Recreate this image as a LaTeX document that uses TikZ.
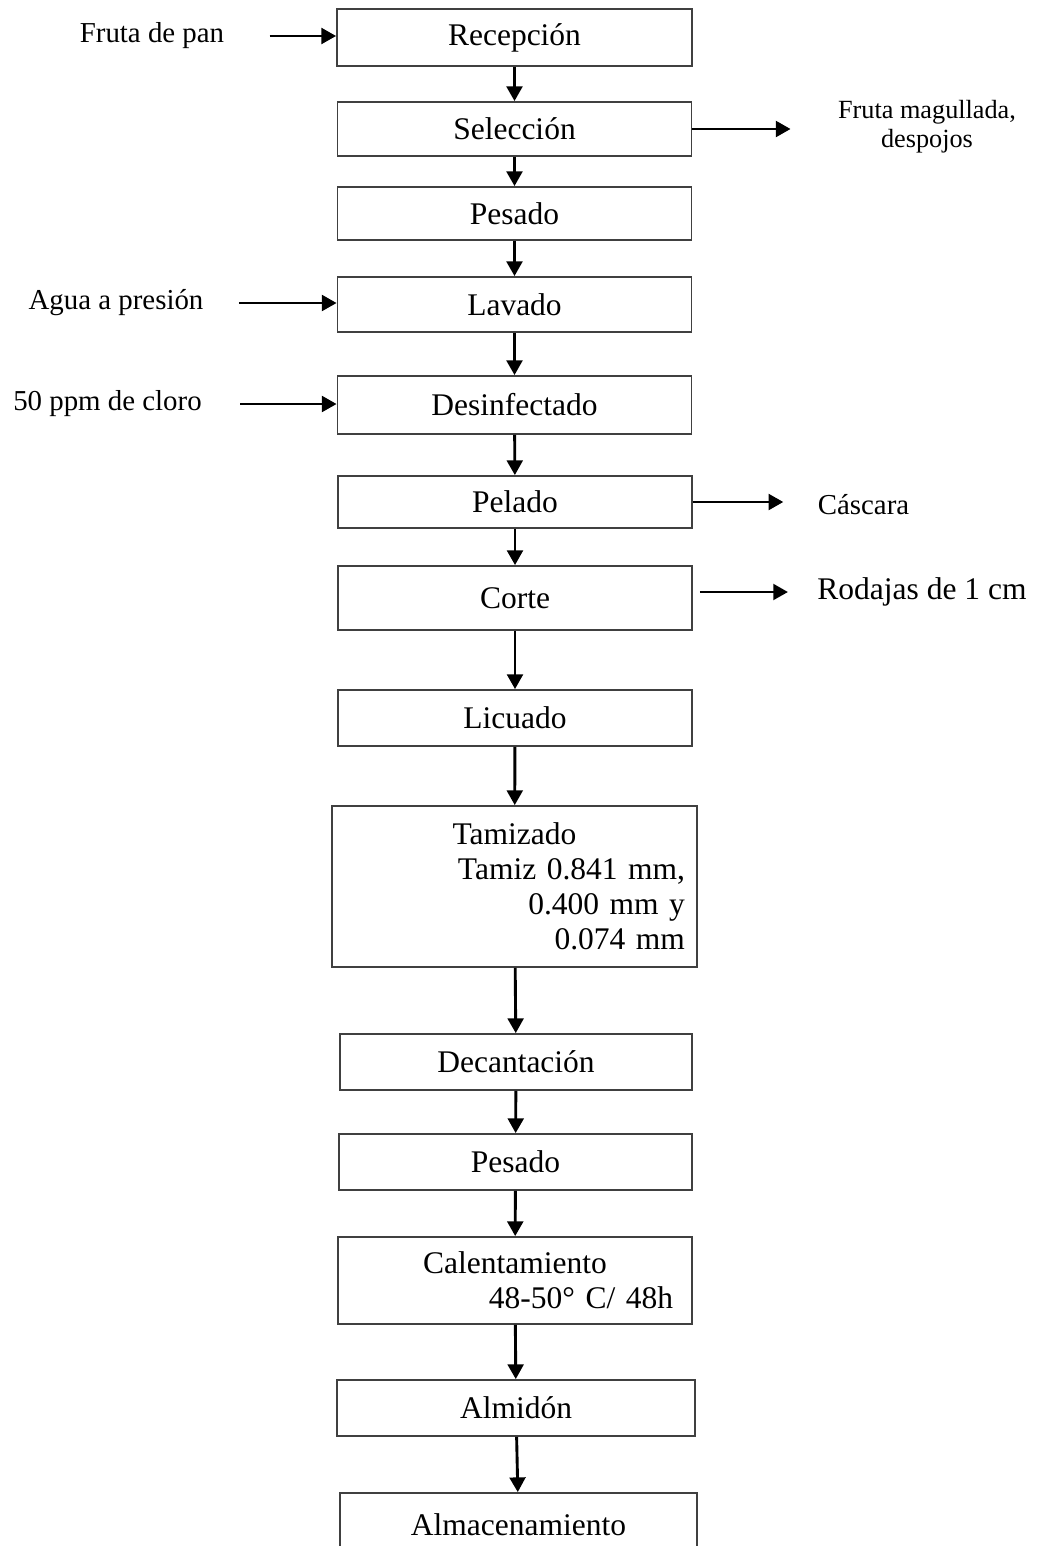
\documentclass[tikz,border=0pt]{standalone}
\usepackage{fontspec}
\setmainfont{Liberation Serif}
\usetikzlibrary{arrows.meta, positioning}
\newcommand{\pxu}{0.381pt}

\tikzset{
  etapa/.style={draw=black!75, line width=0.7pt, inner sep=0pt, minimum width=354*\pxu, minimum height=55*\pxu, font=\fontsize{12}{13.3}\selectfont},
  flujo/.style={-{Triangle[length=5.6pt, width=6pt]}, line width=1.1pt},
  rotulo/.style={inner sep=0pt, font=\fontsize{11}{13}\selectfont},
}

\begin{document}
\begin{tikzpicture}[x=\pxu, y=-\pxu]
  \useasboundingbox (0,0) rectangle (1038,1546);
  \clip (0,0) rectangle (1038,1546);
  % etapas del proceso
  \node[etapa, minimum width=355*\pxu, minimum height=57*\pxu] (recep) at (514.5,37.5) {Recepción};
  \node[etapa, minimum height=54*\pxu] (selec) at (514.5,129) {Selección};
  \node[etapa, minimum height=53*\pxu] (pesado) at (514.5,213.5) {Pesado};
  \node[etapa, minimum height=55*\pxu] (lavado) at (514.5,304.5) {Lavado};
  \node[etapa, minimum height=58*\pxu] (desinf) at (514.5,405) {Desinfectado};
  \node[etapa, minimum height=52*\pxu] (pelado) at (515,502) {Pelado};
  \node[etapa, minimum height=64*\pxu] (corte) at (515,598) {Corte};
  \node[etapa, minimum height=56*\pxu] (licuado) at (515,718) {Licuado};
  \node[etapa, minimum height=161*\pxu, inner xsep=4.6pt, text width=129.9pt, align=right] (tamiz) at (514.5,886.5)
    {\makebox[\linewidth]{Tamizado}\\ Tamiz 0.841 mm,\\ 0.400 mm y\\ 0.074 mm};
  \node[etapa, minimum width=352*\pxu, minimum height=56*\pxu] (decant) at (516,1062) {Decantación};
  \node[etapa, minimum width=353*\pxu, minimum height=56*\pxu] (pesadob) at (515.5,1162) {Pesado};
  \node[etapa, minimum height=87*\pxu, inner xsep=7.2pt, text width=120.4pt, align=right] (calent) at (515,1280.5)
    {\makebox[\linewidth]{Calentamiento}\\ 48-50° C/ 48h};
  \node[etapa, minimum width=358*\pxu, minimum height=56*\pxu] (almidon) at (516,1408) {Almidón};
  \node[etapa, minimum width=357*\pxu, minimum height=63*\pxu] (almacen) at (518.5,1524.5) {Almacenamiento};

  % entradas y salidas
  \node[rotulo] (fruta) at (152,36) {Fruta de pan};
  \node[rotulo] (agua) at (116,303) {Agua a presión};
  \node[rotulo] (cloro) at (107.5,404) {50 ppm de cloro};
  \node[rotulo, font=\fontsize{10}{11}\selectfont, align=center] (magull) at (927,127) {Fruta magullada,\\ despojos};
  \node[rotulo] (cascara) at (863.5,505) {Cáscara};
  \node[rotulo, font=\fontsize{12}{13.3}\selectfont] (rodajas) at (922,592) {Rodajas de 1 cm};

  \foreach \a/\b in {recep/selec, selec/pesado, pesado/lavado, lavado/desinf, desinf/pelado, pelado/corte, corte/licuado, licuado/tamiz, tamiz/decant, decant/pesadob, pesadob/calent, calent/almidon, almidon/almacen}
    \draw[flujo] (\a) -- (\b);

  \draw[flujo, shorten <=45*\pxu] (fruta.east) -- (fruta.east -| recep.west);
  \draw[flujo, shorten <=35*\pxu] (agua.east) -- (agua.east -| lavado.west);
  \draw[flujo, shorten <=38*\pxu] (cloro.east) -- (cloro.east -| desinf.west);
  \draw[flujo, shorten >=47*\pxu] (selec.east) -- (selec.east -| magull.west);
  \draw[flujo, shorten >=34*\pxu] (pelado.east) -- (pelado.east -| cascara.west);
  \draw[flujo, shorten <=7*\pxu, shorten >=29*\pxu] (rodajas.west -| corte.east) -- (rodajas.west);
\end{tikzpicture}
\end{document}
